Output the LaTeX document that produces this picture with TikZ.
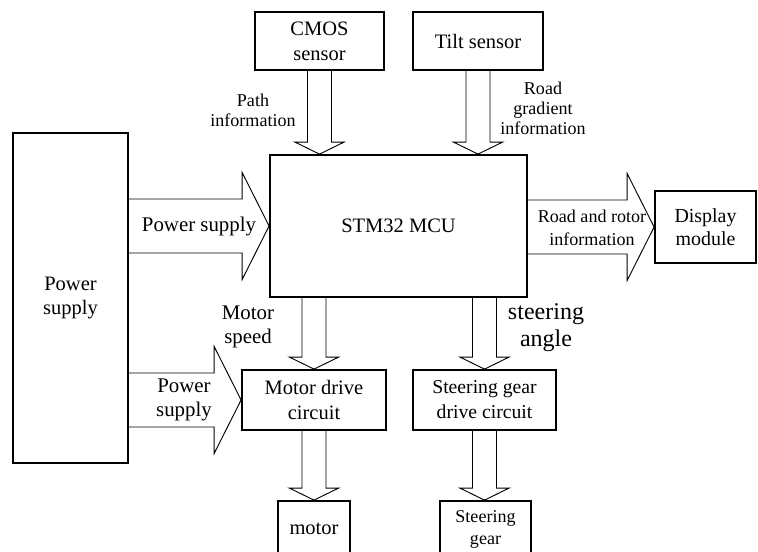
\documentclass[tikz,border=0pt]{standalone}
\usepackage{fontspec}
\setmainfont{Liberation Serif}
\usetikzlibrary{calc}

% sizes of the hollow arrows
\newcommand{\shaftv}{0.36cm}
\newcommand{\headv}{0.735cm}
\newcommand{\headlv}{0.36cm}
\newcommand{\shafth}{0.81cm}
\newcommand{\headh}{1.605cm}
\newcommand{\headlh}{0.81cm}

% hollow arrow pointing down from #1 to #2
\newcommand{\vblock}[2]{%
  \draw[hollow] let \p1=(#1), \p2=(#2) in
    (\x1-\shaftv,\y1) -- (\x1-\shaftv,\y2+\headlv) -- (\x1-\headv,\y2+\headlv)
    -- (\x1,\y2) -- (\x1+\headv,\y2+\headlv) -- (\x1+\shaftv,\y2+\headlv)
    -- (\x1+\shaftv,\y1);}
% hollow arrow pointing right from #1 to #2
\newcommand{\hblock}[2]{%
  \draw[hollow] let \p1=(#1), \p2=(#2) in
    (\x1,\y1+\shafth) -- (\x2-\headlh,\y1+\shafth) -- (\x2-\headlh,\y1+\headh)
    -- (\x2,\y1) -- (\x2-\headlh,\y1-\headh) -- (\x2-\headlh,\y1-\shafth)
    -- (\x1,\y1-\shafth);}

\begin{document}
\begin{tikzpicture}[
	x=0.03cm, y=-0.03cm,
	block/.style={draw, line width=1.5pt, align=center, inner sep=0pt, font=\fontsize{17.5}{21.3}\selectfont},
	hollow/.style={line width=0.8pt, line join=miter},
	info/.style={align=center, inner sep=0pt, font=\fontsize{15.4}{17}\selectfont},
	flow/.style={align=center, inner sep=0pt, font=\fontsize{17.8}{21}\selectfont}
]
\useasboundingbox (0,0) rectangle (758,551);
\clip (0,0) rectangle (758,551);

% sensors
\node[block, minimum width=3.87cm, minimum height=1.74cm] (cmos) at (319.5,41) {CMOS\\sensor};
\node[block, minimum width=3.9cm, minimum height=1.74cm] (tilt) at (478,41) {Tilt sensor};

% controller and peripherals
\node[block, minimum width=7.71cm, minimum height=4.26cm] (mcu) at (398.5,226) {STM32 MCU};
\node[block, minimum width=3.45cm, minimum height=9.9cm] (power) at (70.5,298) {Power\\supply};
\node[block, minimum width=3.03cm, minimum height=2.16cm, font=\fontsize{17}{20}\selectfont] (display) at (705.5,227) {Display\\module};

% drive circuits
\node[block, minimum width=4.32cm, minimum height=1.8cm] (motordrive) at (314,400) {Motor drive\\circuit};
\node[block, minimum width=4.29cm, minimum height=1.8cm, font=\fontsize{16.8}{21.3}\selectfont] (steerdrive) at (484.5,400) {Steering gear\\drive circuit};
\node[block, minimum width=2.16cm, minimum height=1.68cm] (motor) at (314,529) {motor};
\node[block, minimum width=2.73cm, minimum height=1.68cm, font=\fontsize{15.4}{18.8}\selectfont] (steergear) at (485.5,529) {Steering\\gear};

% hollow arrows
\vblock{cmos.south}{cmos.south |- mcu.north}
\vblock{tilt.south}{tilt.south |- mcu.north}
\hblock{power.east |- mcu.west}{mcu.west}
\hblock{mcu.east |- display.west}{display.west}
\hblock{power.east |- motordrive.west}{motordrive.west}
\vblock{mcu.south -| motordrive.north}{motordrive.north}
\vblock{mcu.south -| steerdrive.north}{steerdrive.north}
\vblock{motordrive.south}{motordrive.south |- motor.north}
\vblock{steerdrive.south}{steerdrive.south |- steergear.north}

% labels
\node[info] (pathlbl) at (253,110) {Path\\information};
\node[info] (gradlbl) at (543,108) {Road\\gradient\\information};
\node[flow] (powerlbl) at (199,227) {Power supply};
\node[info, font=\fontsize{15.4}{19.6}\selectfont] (roadlbl) at (592,228) {Road and rotor\\information};
\node[flow, font=\fontsize{17.8}{20.5}\selectfont] (speedlbl) at (248,327) {Motor\\speed};
\node[flow, font=\fontsize{20.5}{23}\selectfont] (anglelbl) at (546,328) {steering\\angle};
\node[flow] (powerlbl2) at (184,400) {Power\\supply};
\end{tikzpicture}
\end{document}
